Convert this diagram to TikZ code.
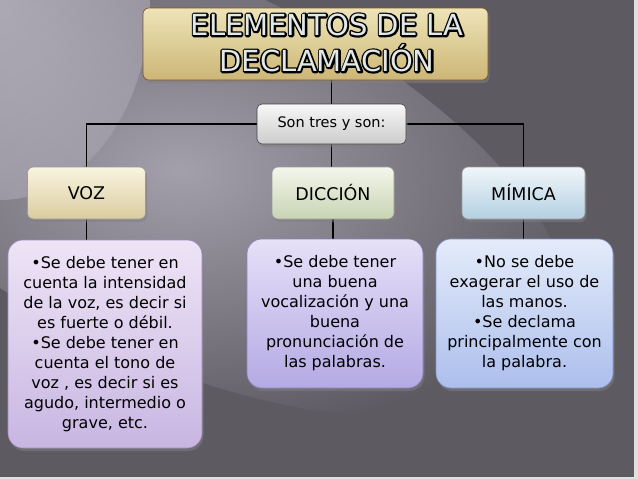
\documentclass[tikz,border=0pt]{standalone}
\usepackage{fontspec}
\setmainfont{DejaVu Sans}
\newfontface\titleout[FakeBold=12]{DejaVu Sans}
\newfontface\titlein{DejaVu Sans}
\usetikzlibrary{shadows}
\definecolor{bgdark}{HTML}{5E5A62}
\definecolor{bglight}{HTML}{A39FAB}
\definecolor{bgcorner}{HTML}{BCB8C4}
\definecolor{titlefill}{HTML}{E2E8E6}
\pgfdeclarelayer{bglayer}
\pgfdeclarelayer{linelayer}
\pgfsetlayers{bglayer,linelayer,main}
\tikzset{
  box/.style={rounded corners=6pt, line width=0.6pt, align=center, inner sep=0pt,
    drop shadow={opacity=0.5, shadow xshift=1.5pt, shadow yshift=-3pt}},
  titlebox/.style={box, draw=black!35!brown, top color={rgb,255:red,238;green,228;blue,184}, bottom color={rgb,255:red,204;green,182;blue,118},
    minimum width=345pt, minimum height=72pt},
  titletext/.style={align=center, inner sep=0pt, line join=round, font=\fontsize{29}{36}\selectfont},
  sonbox/.style={box, rounded corners=5pt, draw=black!75, top color=white!97!black, bottom color=black!20,
    minimum width=149pt, minimum height=40pt, font=\fontsize{14.5}{16}\selectfont},
  headbox/.style={box, draw=black!40, minimum height=52pt, font=\fontsize{17.5}{18}\selectfont},
  contentbox/.style={box, rounded corners=15pt, font=\fontsize{16}{20}\selectfont},
  conn/.style={draw=black, line width=1.1pt},
}
\begin{document}
\begin{tikzpicture}[x=1pt,y=-1pt]
\begin{pgfonlayer}{bglayer}
  \fill[bgdark] (0,0) rectangle (638,479);
  \begin{scope}
    \clip (0,0) rectangle (633,477);
    \shade[inner color=bglight, outer color=bgdark, rotate around={-25:(180,170)}] (180,170) ellipse [x radius=420, y radius=190];
    \shade[inner color=bgcorner, outer color=bglight, opacity=0.8] (0,0) ellipse [x radius=150, y radius=200];
  \end{scope}
  \fill[black!12] (634,0) rectangle (638,479);
  \fill[black!12] (0,477) rectangle (638,479);
\end{pgfonlayer}

\node[titlebox] (title) at (315.5,44) {};
\node[titletext, text=black] (titleline) at (327,43) {\titleout ELEMENTOS DE LA\\\titleout DECLAMACIÓN};
\node[titletext, text=titlefill] (titletxt) at (327,43) {\titlein ELEMENTOS DE LA\\\titlein DECLAMACIÓN};
\node[sonbox] (son) at (331.5,124) {Son tres y son:};

\node[headbox, top color={rgb,255:red,250;green,245;blue,225}, bottom color={rgb,255:red,218;green,204;blue,160}, minimum width=118pt] (voz) at (86.5,193) {VOZ};
\node[headbox, top color={rgb,255:red,244;green,246;blue,236}, bottom color={rgb,255:red,200;green,212;blue,180}, minimum width=122pt] (dic) at (333,193) {DICCIÓN};
\node[headbox, top color={rgb,255:red,240;green,246;blue,250}, bottom color={rgb,255:red,180;green,208;blue,226}, minimum width=123pt] (mim) at (523.5,193) {MÍMICA};

\node[contentbox, draw={rgb,255:red,160;green,140;blue,190}, top color={rgb,255:red,238;green,228;blue,246}, bottom color={rgb,255:red,200;green,182;blue,226}, minimum width=194pt, minimum height=208pt] (vozc) at (105,344)
  {•Se debe tener en\\cuenta la intensidad\\de la voz, es decir si\\es fuerte o débil.\\•Se debe tener en\\cuenta el tono de\\voz , es decir si es\\agudo, intermedio o\\grave, etc.};
\node[contentbox, draw={rgb,255:red,140;green,130;blue,190}, top color={rgb,255:red,230;green,224;blue,248}, bottom color={rgb,255:red,180;green,170;blue,228}, minimum width=176pt, minimum height=149pt] (dicc) at (335,313.5)
  {•Se debe tener\\una buena\\vocalización y una\\buena\\pronunciación de\\las palabras.};
\node[contentbox, draw={rgb,255:red,130;green,150;blue,200}, top color={rgb,255:red,228;green,236;blue,250}, bottom color={rgb,255:red,172;green,190;blue,236}, minimum width=177pt, minimum height=149pt] (mimc) at (524.5,313.5)
  {•No se debe\\exagerar el uso de\\las manos.\\•Se declama\\principalmente con\\la palabra.};

\begin{pgfonlayer}{linelayer}
  \draw[conn] (son.north) -- (son.north |- title.south);
  \draw[conn] (voz.north) |- (son.west);
  \draw[conn] (mim.north) |- (son.east);
  \draw[conn] (son.south) -- (son.south |- dic.north);
  \draw[conn] (voz.south) -- (voz.south |- vozc.north);
  \draw[conn] (dic.south) -- (dic.south |- dicc.north);
  \draw[conn] (mim.south) -- (mim.south |- mimc.north);
\end{pgfonlayer}
\end{tikzpicture}
\end{document}
